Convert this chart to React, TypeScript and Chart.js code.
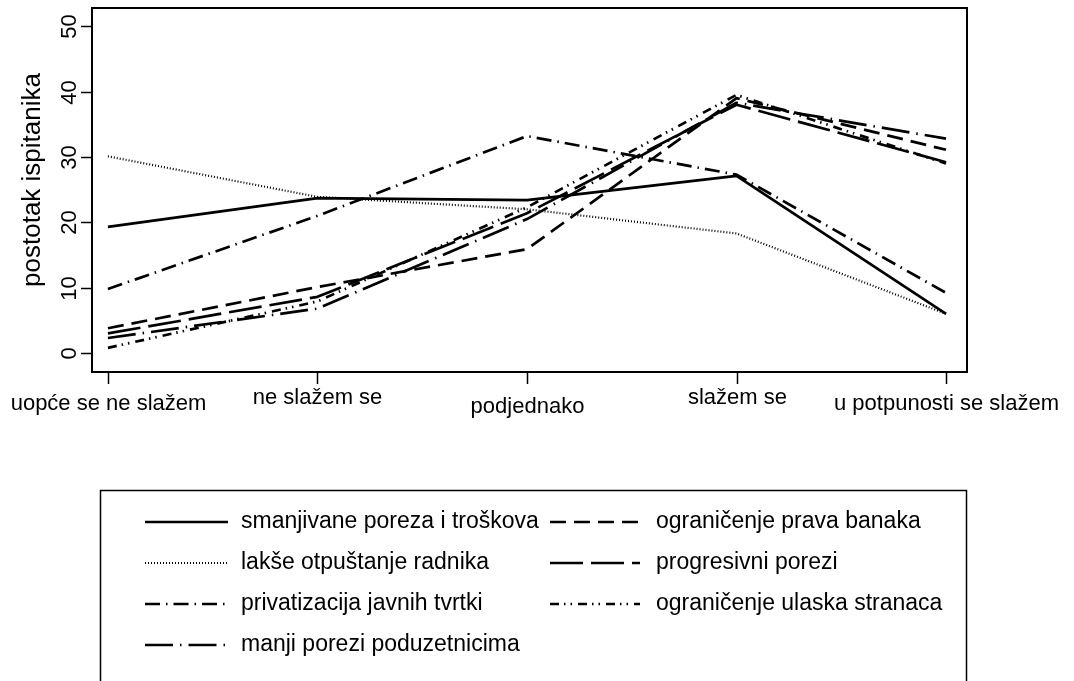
import React, { useEffect, useRef } from "react";
import { Chart, registerables } from "chart.js";

Chart.register(...registerables);

// ---- data ----
const categories = [
  "uopće se ne slažem",
  "ne slažem se",
  "podjednako",
  "slažem se",
  "u potpunosti se slažem",
];
const yTicks = [0, 10, 20, 30, 40, 50];
const yTitle = "postotak ispitanika";

const smanjivanePoreza = [19.3, 23.7, 23.4, 27.1, 6.0];
const ogranicenjePravaBanaka = [3.8, 10.1, 15.9, 39.0, 31.1];
const laksheOtpustanje = [30.1, 23.9, 22.0, 18.3, 6.0];
const progresivniPorezi = [3.0, 8.6, 21.4, 38.0, 29.2];
const privatizacija = [9.8, 21.0, 33.2, 27.3, 9.2];
const ogranicenjeUlaskaStranaca = [0.8, 7.9, 22.3, 39.5, 29.0];
const manjiPorezi = [2.3, 6.8, 20.5, 38.3, 32.8];

const seriesLabels = [
  "smanjivane poreza i troškova",
  "ograničenje prava banaka",
  "lakše otpuštanje radnika",
  "progresivni porezi",
  "privatizacija javnih tvrtki",
  "ograničenje ulaska stranaca",
  "manji porezi poduzetnicima",
];
const seriesValues = [
  smanjivanePoreza,
  ogranicenjePravaBanaka,
  laksheOtpustanje,
  progresivniPorezi,
  privatizacija,
  ogranicenjeUlaskaStranaca,
  manjiPorezi,
];

// ---- styles ----
const seriesDash: number[][] = [
  [],
  [16, 8],
  [1, 2],
  [33, 8],
  [15, 6, 1.5, 6],
  [9, 5, 1.5, 5, 1.5, 6],
  [28, 7, 1.5, 7],
];
const seriesWidth = [2.7, 2.7, 2.2, 2.7, 2.7, 2.7, 2.7];
const FONT = '22px "Liberation Sans", Arial, sans-serif';
const LEGEND_FONT = '23px "Liberation Sans", Arial, sans-serif';
const TITLE_FONT = '26px "Liberation Sans", Arial, sans-serif';
const xLabelBaseline = [410, 404, 413, 404, 410];

const decorPlugin = {
  id: "rdecor",
  afterDraw(chart: any) {
    const { ctx, chartArea } = chart;
    const xs = chart.scales.x;
    const ys = chart.scales.y;
    ctx.save();
    ctx.strokeStyle = "#000";
    ctx.fillStyle = "#000";
    ctx.setLineDash([]);
    ctx.lineCap = "butt";
    // box
    ctx.lineWidth = 2;
    ctx.strokeRect(chartArea.left, chartArea.top, chartArea.right - chartArea.left, chartArea.bottom - chartArea.top);
    ctx.font = FONT;
    // y ticks
    ctx.lineWidth = 1.5;
    yTicks.forEach((v) => {
      const py = Math.round(ys.getPixelForValue(v)) + 0.5;
      ctx.beginPath();
      ctx.moveTo(chartArea.left - 11, py);
      ctx.lineTo(chartArea.left, py);
      ctx.stroke();
      ctx.save();
      ctx.translate(76, py);
      ctx.rotate(-Math.PI / 2);
      ctx.textAlign = "center";
      ctx.textBaseline = "alphabetic";
      ctx.fillText(String(v), 0, 0);
      ctx.restore();
    });
    // x ticks
    categories.forEach((c, i) => {
      const px = Math.round(xs.getPixelForValue(i + 1)) + 0.5;
      ctx.beginPath();
      ctx.moveTo(px, chartArea.bottom);
      ctx.lineTo(px, chartArea.bottom + 12);
      ctx.stroke();
      ctx.textAlign = "center";
      ctx.textBaseline = "alphabetic";
      ctx.fillText(c, px, xLabelBaseline[i]);
    });
    // y title
    ctx.save();
    ctx.font = TITLE_FONT;
    ctx.translate(40, 180);
    ctx.rotate(-Math.PI / 2);
    ctx.textAlign = "center";
    ctx.fillText(yTitle, 0, 0);
    ctx.restore();
    // legend
    ctx.font = LEGEND_FONT;
    ctx.lineWidth = 1.5;
    ctx.strokeRect(100.5, 490.5, 866, 300);
    const lineStart = [145, 550];
    const lineEnd = [228, 640];
    const textX = [241, 656];
    chart.data.datasets.forEach((ds: any, i: number) => {
      const col = i % 2;
      const row = Math.floor(i / 2);
      const y = 522 + row * 41;
      ctx.save();
      ctx.lineWidth = ds.borderWidth;
      ctx.setLineDash(ds.borderDash || []);
      ctx.beginPath();
      ctx.moveTo(lineStart[col], y);
      ctx.lineTo(lineEnd[col], y);
      ctx.stroke();
      ctx.restore();
      ctx.textAlign = "left";
      ctx.textBaseline = "middle";
      ctx.fillText(ds.label, textX[col], y);
    });
    ctx.restore();
  },
};

export default function App() {
  const ref = useRef<HTMLCanvasElement | null>(null);
  useEffect(() => {
    if (!ref.current) return;
    const chart = new Chart(ref.current, {
      type: "line",
      data: {
        datasets: seriesLabels.map((label, i) => ({
          label,
          data: seriesValues[i].map((v, j) => ({ x: j + 1, y: v })),
          borderColor: "#000",
          backgroundColor: "#000",
          borderWidth: seriesWidth[i],
          borderDash: seriesDash[i],
          borderCapStyle: "butt",
          borderJoinStyle: "round",
          pointRadius: 0,
          tension: 0,
          fill: false,
        })),
      },
      options: {
        animation: false,
        responsive: false,
        devicePixelRatio: 1,
        layout: { padding: { left: 92, top: 8, right: 107, bottom: 309 } },
        scales: {
          x: { type: "linear", display: false, min: 0.924, max: 5.1 },
          y: { type: "linear", display: false, min: -2.9, max: 52.8 },
        },
        plugins: { legend: { display: false }, tooltip: { enabled: false } },
      },
      plugins: [decorPlugin],
    } as any);
    return () => chart.destroy();
  }, []);
  return (
    <div style={{ position: "fixed", left: 0, top: 0, width: 1074, height: 681, background: "#fff" }}>
      <canvas ref={ref} width={1074} height={681} />
    </div>
  );
}
